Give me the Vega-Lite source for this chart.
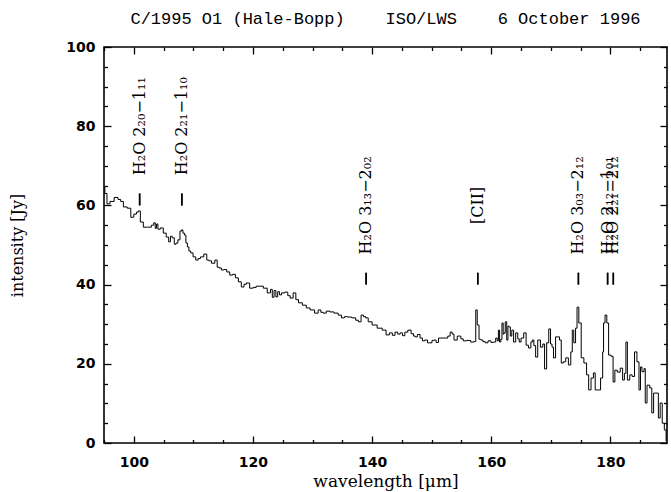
{
  "$schema": "https://vega.github.io/schema/vega-lite/v6.json",
  "width": 563,
  "height": 396,
  "autosize": "none",
  "padding": {"left": 104, "top": 47, "right": 4, "bottom": 49},
  "background": "white",
  "config": {
    "view": {"stroke": "black", "strokeWidth": 1.6},
    "axis": {"domain": false, "grid": false, "tickColor": "black", "tickWidth": 1.3, "labelColor": "black", "titleColor": "black"}
  },
  "title": {"text": "C/1995 O1 (Hale-Bopp)\u00a0\u00a0\u00a0\u00a0ISO/LWS\u00a0\u00a0\u00a0\u00a06 October 1996", "font": "Liberation Mono", "fontSize": 17, "fontWeight": "normal", "color": "black", "offset": 12, "anchor": "middle"},
  "datasets": {
    "spec": [
      {"w": 95.0, "v": 64.5}, {"w": 95.3, "v": 63}, {"w": 95.7, "v": 60.4}, {"w": 96.3, "v": 61}, {"w": 97.1, "v": 62},
      {"w": 97.6, "v": 61.5}, {"w": 98.0, "v": 61}, {"w": 98.5, "v": 59.6}, {"w": 99.3, "v": 59.3}, {"w": 99.7, "v": 57},
      {"w": 100.3, "v": 57.8}, {"w": 100.6, "v": 58.3}, {"w": 100.9, "v": 58.6}, {"w": 101.3, "v": 55.8}, {"w": 101.9, "v": 54.5},
      {"w": 102.7, "v": 54.5}, {"w": 103.2, "v": 55}, {"w": 103.5, "v": 55.6}, {"w": 103.7, "v": 54.2}, {"w": 103.9, "v": 55.3},
      {"w": 104.2, "v": 54}, {"w": 104.7, "v": 54.3}, {"w": 105.2, "v": 53}, {"w": 105.7, "v": 52}, {"w": 106.0, "v": 50.8},
      {"w": 106.3, "v": 52.2}, {"w": 106.6, "v": 51.8}, {"w": 107.0, "v": 50.2}, {"w": 107.2, "v": 50.5}, {"w": 107.6, "v": 51.3},
      {"w": 107.9, "v": 53.5}, {"w": 108.1, "v": 53.8}, {"w": 108.4, "v": 53}, {"w": 108.6, "v": 52.5}, {"w": 108.9, "v": 50.5},
      {"w": 109.1, "v": 49.5}, {"w": 109.4, "v": 48.5}, {"w": 109.7, "v": 48}, {"w": 110.2, "v": 47}, {"w": 110.6, "v": 46.2},
      {"w": 111.0, "v": 46.6}, {"w": 111.4, "v": 47}, {"w": 112.1, "v": 47.7}, {"w": 112.4, "v": 46.2}, {"w": 112.8, "v": 46},
      {"w": 113.3, "v": 45.4}, {"w": 113.9, "v": 46.2}, {"w": 114.1, "v": 44.4}, {"w": 114.5, "v": 44.2}, {"w": 114.9, "v": 43.7},
      {"w": 115.4, "v": 43.8}, {"w": 115.8, "v": 43.2}, {"w": 116.4, "v": 42.4}, {"w": 116.8, "v": 42.6}, {"w": 117.3, "v": 41.7},
      {"w": 117.8, "v": 40.7}, {"w": 118.3, "v": 39.4}, {"w": 118.7, "v": 40.1}, {"w": 119.1, "v": 40.4}, {"w": 119.8, "v": 39.1},
      {"w": 120.3, "v": 39.3}, {"w": 120.8, "v": 39.6}, {"w": 121.5, "v": 39.6}, {"w": 122.0, "v": 39.1}, {"w": 122.8, "v": 37.9},
      {"w": 123.1, "v": 38.8}, {"w": 123.4, "v": 36.8}, {"w": 123.7, "v": 38.5}, {"w": 124.0, "v": 36.9}, {"w": 124.3, "v": 38.2},
      {"w": 124.6, "v": 37.4}, {"w": 125.0, "v": 37.9}, {"w": 125.7, "v": 38.1}, {"w": 126.0, "v": 37.2}, {"w": 126.5, "v": 36.6},
      {"w": 127.0, "v": 37.9}, {"w": 127.4, "v": 36.2}, {"w": 127.9, "v": 35.4}, {"w": 128.7, "v": 34.8}, {"w": 129.2, "v": 34.1},
      {"w": 130.0, "v": 33.6}, {"w": 130.7, "v": 32.8}, {"w": 131.2, "v": 33.6}, {"w": 131.6, "v": 33.0}, {"w": 132.0, "v": 32.8},
      {"w": 132.6, "v": 33.3}, {"w": 133.2, "v": 33.1}, {"w": 134.0, "v": 32.8}, {"w": 134.6, "v": 32.3}, {"w": 135.1, "v": 31.6},
      {"w": 135.6, "v": 31.9}, {"w": 136.2, "v": 31.8}, {"w": 137.0, "v": 31.6}, {"w": 137.5, "v": 31.0}, {"w": 137.9, "v": 30.6},
      {"w": 138.4, "v": 32.3}, {"w": 138.7, "v": 31.9}, {"w": 139.1, "v": 31.6}, {"w": 139.6, "v": 30.6}, {"w": 140.4, "v": 29.8},
      {"w": 141.3, "v": 29.0}, {"w": 142.1, "v": 28.5}, {"w": 142.6, "v": 27.3}, {"w": 143.2, "v": 27.8}, {"w": 143.6, "v": 27.2},
      {"w": 144.1, "v": 28.0}, {"w": 144.5, "v": 27.5}, {"w": 144.9, "v": 27.8}, {"w": 145.3, "v": 27.1}, {"w": 145.7, "v": 28.0},
      {"w": 146.3, "v": 28.5}, {"w": 146.8, "v": 27.6}, {"w": 147.1, "v": 27.0}, {"w": 147.4, "v": 26.8}, {"w": 147.8, "v": 27.4},
      {"w": 148.3, "v": 26.5}, {"w": 148.6, "v": 25.8}, {"w": 149.1, "v": 26.0}, {"w": 149.5, "v": 25.3}, {"w": 149.9, "v": 25.3},
      {"w": 150.2, "v": 25.9}, {"w": 150.5, "v": 26.0}, {"w": 151.0, "v": 25.4}, {"w": 151.3, "v": 26.5}, {"w": 152.2, "v": 26.5},
      {"w": 152.5, "v": 26.5}, {"w": 152.9, "v": 27.0}, {"w": 153.3, "v": 28.0}, {"w": 153.6, "v": 27.5}, {"w": 153.9, "v": 26.0},
      {"w": 154.7, "v": 27.0}, {"w": 155.1, "v": 26.3}, {"w": 155.5, "v": 25.8}, {"w": 156.2, "v": 25.9}, {"w": 156.9, "v": 25.5},
      {"w": 157.3, "v": 25.6}, {"w": 157.5, "v": 33.6}, {"w": 157.8, "v": 29.8}, {"w": 158.1, "v": 26.2}, {"w": 158.4, "v": 26.0},
      {"w": 158.8, "v": 25.6}, {"w": 159.2, "v": 25.3}, {"w": 159.7, "v": 25.8}, {"w": 160.2, "v": 25.4}, {"w": 160.6, "v": 25.5},
      {"w": 160.9, "v": 26.5}, {"w": 161.1, "v": 25.8}, {"w": 161.3, "v": 28.5}, {"w": 161.5, "v": 25.5}, {"w": 161.7, "v": 26.2},
      {"w": 161.9, "v": 30.3}, {"w": 162.1, "v": 27.5}, {"w": 162.2, "v": 27.8}, {"w": 162.5, "v": 30.6}, {"w": 162.7, "v": 26.0},
      {"w": 162.9, "v": 29.5}, {"w": 163.1, "v": 29.3}, {"w": 163.3, "v": 27.0}, {"w": 163.6, "v": 28.5}, {"w": 163.9, "v": 25.5},
      {"w": 164.3, "v": 27.8}, {"w": 164.6, "v": 26.3}, {"w": 164.8, "v": 25.5}, {"w": 165.2, "v": 26.5}, {"w": 165.7, "v": 27.8},
      {"w": 166.0, "v": 24.7}, {"w": 166.5, "v": 24.0}, {"w": 166.8, "v": 25.5}, {"w": 167.0, "v": 26.0}, {"w": 167.3, "v": 24.6},
      {"w": 167.6, "v": 21.7}, {"w": 168.0, "v": 26.0}, {"w": 168.5, "v": 24.2}, {"w": 168.8, "v": 25.0}, {"w": 169.1, "v": 18.7},
      {"w": 169.5, "v": 25.3}, {"w": 169.8, "v": 28.8}, {"w": 170.1, "v": 25.0}, {"w": 170.3, "v": 24.2}, {"w": 170.6, "v": 21.5},
      {"w": 171.0, "v": 26.8}, {"w": 171.3, "v": 26.8}, {"w": 171.6, "v": 26.0}, {"w": 171.9, "v": 20.2}, {"w": 172.3, "v": 20.5},
      {"w": 172.7, "v": 21.5}, {"w": 173.2, "v": 19.7}, {"w": 173.5, "v": 23.0}, {"w": 173.7, "v": 28.5}, {"w": 174.0, "v": 25.3},
      {"w": 174.3, "v": 29.0}, {"w": 174.5, "v": 34.3}, {"w": 174.9, "v": 30.3}, {"w": 175.3, "v": 21.5}, {"w": 175.8, "v": 20.2},
      {"w": 176.2, "v": 17.2}, {"w": 176.5, "v": 13.4}, {"w": 177.0, "v": 16.4}, {"w": 177.3, "v": 17.7}, {"w": 177.6, "v": 13.4},
      {"w": 178.1, "v": 13.4}, {"w": 178.6, "v": 16.4}, {"w": 178.8, "v": 23.0}, {"w": 178.9, "v": 30.3}, {"w": 179.3, "v": 32.3},
      {"w": 179.5, "v": 30.3}, {"w": 179.9, "v": 22.2}, {"w": 180.3, "v": 21.9}, {"w": 180.6, "v": 15.4}, {"w": 180.9, "v": 18.4},
      {"w": 181.4, "v": 17.9}, {"w": 181.9, "v": 18.9}, {"w": 182.2, "v": 15.9}, {"w": 182.5, "v": 17.6}, {"w": 182.7, "v": 25.5},
      {"w": 183.0, "v": 15.9}, {"w": 183.5, "v": 17.2}, {"w": 183.8, "v": 16.8}, {"w": 184.3, "v": 23.0}, {"w": 184.6, "v": 20.5},
      {"w": 185.0, "v": 13.4}, {"w": 185.1, "v": 19.2}, {"w": 185.5, "v": 18.0}, {"w": 185.8, "v": 18.8}, {"w": 185.9, "v": 10.1},
      {"w": 186.4, "v": 14.6}, {"w": 186.8, "v": 13.9}, {"w": 187.1, "v": 7.6}, {"w": 187.4, "v": 12.6}, {"w": 187.9, "v": 12.6},
      {"w": 188.2, "v": 6.3}, {"w": 188.5, "v": 10.1}, {"w": 188.9, "v": 5.0}, {"w": 189.2, "v": 3.3}, {"w": 189.5, "v": 0.5}
    ],
    "lines": [
      {"w": 100.98, "lo": 60, "hi": 63, "ly": 80, "lab": "H₂O 2₂₀−1₁₁"},
      {"w": 108.07, "lo": 60, "hi": 63, "ly": 80, "lab": "H₂O 2₂₁−1₁₀"},
      {"w": 139.0, "lo": 40, "hi": 43, "ly": 60, "lab": "H₂O 3₁₃−2₀₂"},
      {"w": 157.74, "lo": 40, "hi": 43, "ly": 60, "lab": "[CII]"},
      {"w": 174.63, "lo": 40, "hi": 43, "ly": 60, "lab": "H₂O 3₀₃−2₁₂"},
      {"w": 179.53, "lo": 40, "hi": 43, "ly": 60, "lab": "H₂O 2₁₂−1₀₁"},
      {"w": 180.49, "lo": 40, "hi": 43, "ly": 60, "lab": "H₂O 2₂₁−2₁₂"}
    ]
  },
  "layer": [
    {
      "data": {"name": "spec"},
      "mark": {"type": "line", "interpolate": "step", "color": "black", "strokeWidth": 1, "clip": true},
      "encoding": {
        "x": {"field": "w", "type": "quantitative", "scale": {"domain": [95, 189.5], "nice": false, "zero": false},
          "axis": {"orient": "bottom", "values": [100, 120, 140, 160, 180], "tickSize": -7,
            "labelFont": "DejaVu Sans", "labelFontSize": 14, "labelFontWeight": "bold",
            "labelPadding": 19, "labelOverlap": false, "labelFlush": false,
            "title": "wavelength [μm]", "titleFont": "DejaVu Serif", "titleFontSize": 17, "titleFontWeight": "normal", "titlePadding": 4}},
        "y": {"field": "v", "type": "quantitative", "scale": {"domain": [0, 100], "nice": false, "zero": false},
          "axis": {"orient": "left", "values": [0, 20, 40, 60, 80, 100], "tickSize": -7,
            "labelFont": "DejaVu Sans", "labelFontSize": 14, "labelFontWeight": "bold",
            "labelPadding": 16, "labelOverlap": false, "labelFlush": false,
            "title": "intensity [Jy]", "titleFont": "DejaVu Serif", "titleFontSize": 16, "titleFontWeight": "normal", "titlePadding": 40}}
      }
    },
    {
      "data": {"name": "lines"},
      "mark": {"type": "rule", "color": "black", "strokeWidth": 1.5},
      "encoding": {
        "x": {"field": "w", "type": "quantitative",
          "axis": {"orient": "top", "values": [100, 120, 140, 160, 180], "tickSize": -7, "labels": false, "title": null}},
        "y": {"field": "lo", "type": "quantitative",
          "axis": {"orient": "right", "values": [0, 20, 40, 60, 80, 100], "tickSize": -7, "labels": false, "title": null}},
        "y2": {"field": "hi"}
      }
    },
    {
      "data": {"name": "lines"},
      "mark": {"type": "text", "angle": 270, "align": "center", "baseline": "middle", "font": "DejaVu Serif", "fontSize": 16, "color": "black"},
      "encoding": {
        "x": {"field": "w", "type": "quantitative",
          "axis": {"orient": "bottom", "values": [95,105,110,115,125,130,135,145,150,155,165,170,175,185], "tickSize": -3.5, "labels": false, "title": null}},
        "y": {"field": "ly", "type": "quantitative",
          "axis": {"orient": "left", "values": [5,10,15,25,30,35,45,50,55,65,70,75,85,90,95], "tickSize": -3.5, "labels": false, "title": null}},
        "text": {"field": "lab"}
      }
    },
    {
      "data": {"name": "lines"},
      "mark": {"type": "rule", "color": "black", "strokeWidth": 1.5},
      "encoding": {
        "x": {"field": "w", "type": "quantitative",
          "axis": {"orient": "top", "values": [95,105,110,115,125,130,135,145,150,155,165,170,175,185], "tickSize": -3.5, "labels": false, "title": null}},
        "y": {"field": "lo", "type": "quantitative",
          "axis": {"orient": "right", "values": [5,10,15,25,30,35,45,50,55,65,70,75,85,90,95], "tickSize": -3.5, "labels": false, "title": null}},
        "y2": {"field": "hi"}
      }
    }
  ],
  "resolve": {"axis": {"x": "independent", "y": "independent"}}
}
